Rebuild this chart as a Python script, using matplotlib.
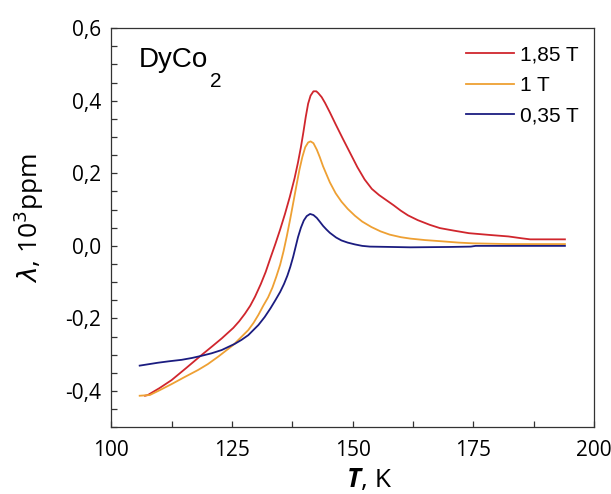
import matplotlib
matplotlib.use("Agg")
import matplotlib.pyplot as plt
from matplotlib.ticker import MultipleLocator, FuncFormatter

# Magnetostriction of DyCo2 vs temperature
t_185 = [107.0, 107.6, 110.0, 112.5, 115.5, 118.7, 121.0, 122.9, 125.3, 126.5, 127.7,
         128.8, 129.8, 131.0, 132.0, 133.0, 134.0, 135.0, 136.0, 137.0, 138.0, 138.7,
         139.3, 139.8, 140.3, 140.8, 141.3, 141.9, 142.5, 142.9, 143.6, 144.3, 145.3,
         146.5, 148.0, 149.5, 151.0, 152.5, 154.0, 155.5, 157.0, 158.5, 160.0, 161.5,
         163.5, 166.0, 168.1, 171.0, 174.1, 178.5, 182.3, 185.0, 186.8, 194.0]
l_185 = [-0.413, -0.411, -0.392, -0.370, -0.337, -0.301, -0.276, -0.255, -0.226, -0.208, -0.187,
         -0.165, -0.140, -0.105, -0.072, -0.033, 0.005, 0.045, 0.088, 0.135, 0.187, 0.230,
         0.272, 0.312, 0.355, 0.392, 0.414, 0.426, 0.426, 0.421, 0.410, 0.394, 0.368,
         0.335, 0.295, 0.256, 0.217, 0.183, 0.157, 0.140, 0.126, 0.112, 0.097, 0.084,
         0.071, 0.058, 0.049, 0.042, 0.035, 0.030, 0.026, 0.021, 0.018, 0.018]

t_1 = [105.9, 108.0, 110.0, 112.5, 115.0, 118.0, 120.0, 122.2, 125.3, 128.4, 129.5,
       130.5, 131.5, 132.5, 133.4, 134.2, 135.0, 135.7, 136.4, 137.1, 137.8, 138.4,
       139.0, 139.6, 140.2, 140.8, 141.3, 141.9, 142.6, 143.2, 143.9, 145.3, 146.5,
       147.7, 149.0, 150.5, 152.0, 153.9, 155.8, 157.7, 160.0, 162.0, 165.0, 168.1,
       172.0, 175.0, 182.3, 194.0]
l_1 = [-0.413, -0.411, -0.398, -0.381, -0.363, -0.342, -0.326, -0.305, -0.273, -0.232, -0.212,
       -0.190, -0.165, -0.142, -0.115, -0.085, -0.052, -0.015, 0.028, 0.075, 0.125, 0.168,
       0.210, 0.245, 0.272, 0.285, 0.288, 0.283, 0.265, 0.245, 0.219, 0.175, 0.145,
       0.122, 0.102, 0.083, 0.067, 0.052, 0.040, 0.031, 0.024, 0.020, 0.016, 0.013,
       0.009, 0.007, 0.005, 0.005]

t_035 = [105.9, 107.8, 109.7, 112.0, 114.6, 116.7, 118.7, 120.8, 122.9, 125.6, 127.0,
         128.4, 130.5, 131.8, 133.0, 134.0, 135.0, 135.8, 136.5, 137.1, 137.7, 138.2,
         138.7, 139.3, 139.9, 140.5, 141.2, 141.9, 142.6, 143.2, 143.9, 144.6, 145.3,
         146.6, 147.7, 149.0, 150.5, 152.0, 153.6, 158.0, 162.0, 170.1, 174.5, 175.5, 194.0]
l_035 = [-0.330, -0.326, -0.322, -0.318, -0.314, -0.309, -0.303, -0.296, -0.287, -0.270, -0.259,
         -0.246, -0.218, -0.196, -0.172, -0.150, -0.127, -0.105, -0.082, -0.058, -0.030, -0.003,
         0.024, 0.050, 0.070, 0.082, 0.088, 0.085, 0.077, 0.067, 0.055, 0.045, 0.036,
         0.023, 0.015, 0.009, 0.004, 0.000, -0.002, -0.003, -0.004, -0.003, -0.002, 0.000, 0.000]

series_labels = ["1,85 T", "1 T", "0,35 T"]
series_colors = ["#d0262d", "#eea033", "#1b1c80"]


def comma_fmt(v, pos):
    s = "%.1f" % v
    if s == "-0.0":
        s = "0.0"
    return s.replace(".", ",")


def main():
    fig = plt.figure(figsize=(6.11, 4.94), dpi=100)
    ax = fig.add_axes([0.182, 0.135, 0.790, 0.808])

    # Draw the three field curves
    data = [(t_185, l_185), (t_1, l_1), (t_035, l_035)]
    for (tt, ll), lab, col in zip(data, series_labels, series_colors):
        ax.plot(tt, ll, color=col, lw=1.3, label=lab, solid_joinstyle="round")

    ax.set_xlim(100, 200)
    ax.set_ylim(-0.5, 0.6)
    ax.xaxis.set_major_locator(MultipleLocator(25))
    ax.xaxis.set_minor_locator(MultipleLocator(12.5))
    ax.yaxis.set_major_locator(MultipleLocator(0.2))
    ax.yaxis.set_minor_locator(MultipleLocator(0.05))
    ax.yaxis.set_major_formatter(FuncFormatter(comma_fmt))

    for sp in ax.spines.values():
        sp.set_linewidth(0.9)
        sp.set_color("#333333")
    ax.tick_params(which="both", direction="in", length=4, width=0.9, color="#333333",
                   top=False, right=False)
    ax.tick_params(axis="y", pad=7)
    ax.tick_params(axis="x", pad=9)
    for lbl in ax.get_xticklabels() + ax.get_yticklabels():
        lbl.set_fontfamily("Open Sans")
        lbl.set_fontsize(15)

    # Axis labels
    ax.set_ylabel(r"$\lambda$, 10$^3$ppm", fontfamily="Open Sans", fontsize=19)
    ax.yaxis.set_label_coords(-0.135, 0.525)
    t1 = ax.text(0.488, -0.150, "T", transform=ax.transAxes, fontfamily="Open Sans",
                 fontsize=19, fontweight="bold", fontstyle="italic", va="baseline")
    ax.annotate(", K", xy=(1, 0), xycoords=t1, va="bottom", fontfamily="Open Sans",
                fontsize=19)

    # Compound name with lowered subscript
    d1 = ax.text(0.058, 0.902, "DyCo", transform=ax.transAxes,
                 fontfamily="Liberation Sans", fontsize=20, va="baseline")
    ax.annotate("2", xy=(1, 0), xycoords=d1, xytext=(1, 1), textcoords="offset points",
                va="top", fontfamily="Liberation Sans", fontsize=15)

    ax.legend(loc="upper right", bbox_to_anchor=(0.968, 0.956), frameon=False,
              prop={"family": "Liberation Sans", "size": 15}, handlelength=2.35,
              handletextpad=0.25, labelspacing=0.55, borderpad=0, borderaxespad=0)

    fig.savefig("out.png", dpi=100)


if __name__ == "__main__":
    main()
